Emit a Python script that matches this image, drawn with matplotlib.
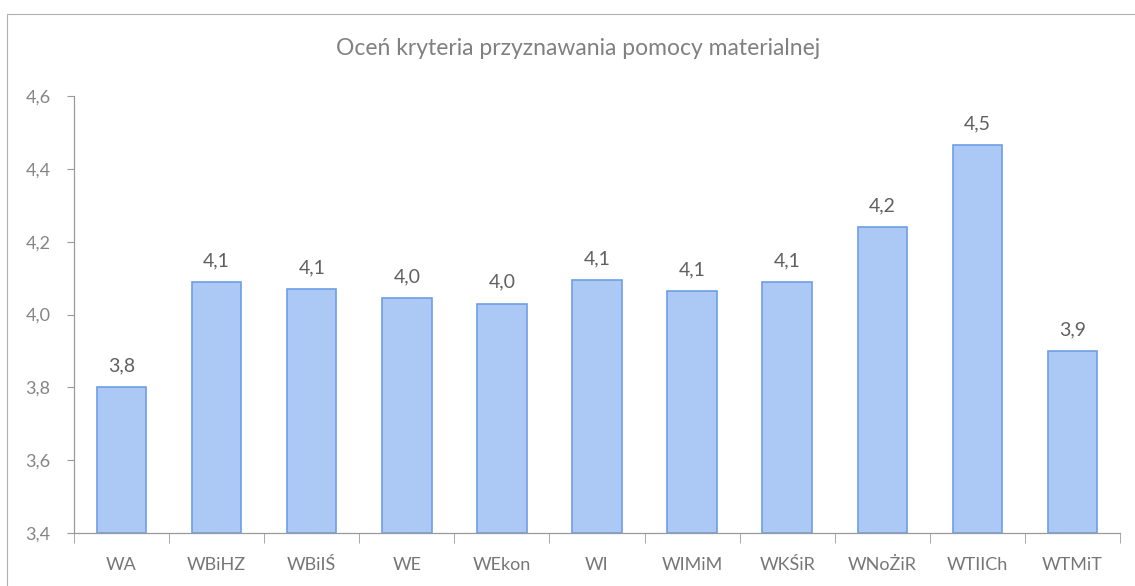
import numpy as np
import matplotlib.pyplot as plt
from matplotlib.patches import Rectangle

categories = ['WA', 'WBiHZ', 'WBiIŚ', 'WE', 'WEkon', 'WI', 'WIMiM', 'WKŚiR', 'WNoŻiR', 'WTIICh', 'WTMiT']
values = [3.80, 4.09, 4.07, 4.045, 4.03, 4.095, 4.065, 4.09, 4.24, 4.465, 3.90]
yticks = [3.4, 3.6, 3.8, 4.0, 4.2, 4.4, 4.6]

plt.rcParams['font.family'] = ['Lato', 'DejaVu Sans']

fig = plt.figure(figsize=(11.35, 5.86), dpi=100)
ax = fig.add_axes([0.0652, 0.0904, 0.9216, 0.7458])

x = np.arange(len(categories))
ax.bar(x, np.array(values) - 3.4, bottom=3.4, width=0.52,
       color='#abc9f4', edgecolor='#6d9ee6', linewidth=1.2)

for xi, v in zip(x, values):
    ax.text(xi, v + 0.035, f'{v:.1f}'.replace('.', ','), ha='center', va='bottom',
            fontsize=14, color='#606060')

ax.set_xlim(-0.5, len(categories) - 0.5)
ax.set_ylim(3.4, 4.6)
ax.set_yticks(yticks)
ax.set_yticklabels([f'{t:.1f}'.replace('.', ',') for t in yticks])
ax.set_xticks(x)
ax.set_xticklabels(categories)
ax.set_xticks(np.arange(len(categories) + 1) - 0.5, minor=True)

for s in ['top', 'right']:
    ax.spines[s].set_visible(False)
for s in ['left', 'bottom']:
    ax.spines[s].set_color('#9a9a9a')
    ax.spines[s].set_linewidth(0.9)

ax.tick_params(axis='y', length=5, color='#9a9a9a', labelsize=13, labelcolor='#858585', pad=12)
ax.tick_params(axis='x', which='major', length=0, labelsize=13, labelcolor='#777777', pad=17)
ax.tick_params(axis='x', which='minor', length=7, color='#9a9a9a')

fig.text(0.509, 0.918, 'Oceń kryteria przyznawania pomocy materialnej', ha='center', va='center',
         fontsize=16.5, color='#808080')

fig.patches.append(Rectangle((7 / 1135, -0.05), 1.2, 1 - 14 / 586 + 0.05, transform=fig.transFigure,
                             fill=False, edgecolor='#b0b0b0', linewidth=0.8))

fig.savefig('out.png', dpi=100)
